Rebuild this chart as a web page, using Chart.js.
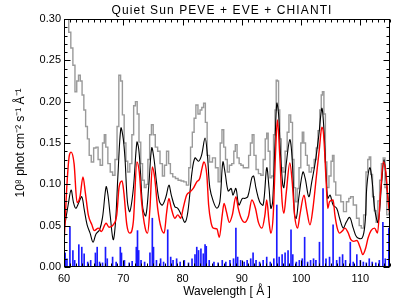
<!DOCTYPE html>
<html><head><meta charset="utf-8">
<script src="https://cdn.jsdelivr.net/npm/chart.js@4.4.1/dist/chart.umd.min.js"></script>
<style>html,body{margin:0;padding:0;background:#fff}#wrap{width:409px;height:307px}</style>
</head><body><div id="wrap"><canvas id="c" width="409" height="307"></canvas></div>
<script>
const chartTitle = 'Quiet Sun PEVE + EVE + CHIANTI';
const xAxisTitle = 'Wavelength [ Å ]';
const yAxisTitle = '10⁸ phot cm⁻² s⁻¹ Å⁻¹';
const xTickValues = [60, 70, 80, 90, 100, 110];
const yTickValues = [0, 0.05, 0.10, 0.15, 0.20, 0.25, 0.30];

// PEVE (grey histogram)
const peveWave = [60.0,60.3,60.6,61.0,61.3,61.7,62.0,62.3,62.6,62.9,63.2,63.5,63.8,64.1,64.4,64.8,65.2,65.6,65.9,66.3,66.7,66.9,67.2,67.6,68.0,68.4,68.8,69.1,69.4,69.7,70.0,70.3,70.6,70.9,71.3,71.6,71.9,72.2,72.5,72.8,73.1,73.4,73.7,74.0,74.3,74.6,74.9,75.2,75.6,76.0,76.4,76.8,77.1,77.5,77.8,78.1,78.6,79.0,79.5,80.0,80.4,80.9,81.2,81.5,81.8,82.1,82.4,82.8,83.1,83.4,83.7,84.0,84.3,84.8,85.3,85.8,86.2,86.5,86.8,87.1,87.4,87.7,88.1,88.5,88.8,89.0,89.4,89.7,90.0,90.5,91.0,91.3,91.6,91.9,92.2,92.6,93.0,93.4,93.8,94.1,94.3,94.6,94.9,95.2,95.5,95.7,95.9,96.1,96.3,96.5,96.8,97.1,97.5,97.8,98.1,98.4,98.7,98.9,99.2,99.5,99.8,100.1,100.3,100.6,100.9,101.2,101.5,102.0,102.4,102.7,103.0,103.3,103.5,103.7,104.0,104.2,104.5,104.9,105.2,105.4,105.7,106.0,106.5,106.9,107.4,107.9,108.2,108.5,109.1,109.6,110.0,110.3,110.8,111.1,111.4,111.6,111.9,112.2,112.5,112.8,113.1,113.4,113.7,114.0,114.3,114.6,115.0];
const peveFlux = [0.31,0.31,0.30,0.284,0.265,0.244,0.212,0.225,0.232,0.225,0.208,0.19,0.17,0.155,0.135,0.127,0.144,0.145,0.13,0.123,0.15,0.16,0.145,0.125,0.115,0.111,0.13,0.17,0.232,0.225,0.184,0.15,0.128,0.115,0.125,0.16,0.195,0.20,0.185,0.151,0.125,0.105,0.096,0.10,0.13,0.16,0.172,0.16,0.145,0.14,0.125,0.11,0.123,0.14,0.125,0.113,0.109,0.107,0.105,0.104,0.103,0.099,0.12,0.145,0.163,0.18,0.196,0.185,0.19,0.193,0.198,0.175,0.135,0.127,0.132,0.12,0.103,0.15,0.166,0.145,0.13,0.115,0.123,0.125,0.14,0.148,0.132,0.125,0.123,0.12,0.12,0.135,0.15,0.16,0.135,0.118,0.113,0.111,0.13,0.155,0.162,0.14,0.108,0.11,0.16,0.19,0.226,0.225,0.19,0.155,0.12,0.115,0.14,0.163,0.184,0.175,0.13,0.096,0.079,0.095,0.12,0.15,0.163,0.15,0.135,0.123,0.115,0.12,0.13,0.144,0.165,0.19,0.208,0.212,0.185,0.127,0.096,0.11,0.128,0.135,0.103,0.087,0.087,0.079,0.067,0.079,0.083,0.085,0.075,0.059,0.05,0.047,0.063,0.115,0.13,0.133,0.112,0.085,0.068,0.054,0.08,0.105,0.125,0.132,0.096,0.063,0.065];

// EVE (black)
const eveWave = [60.0,60.3,60.7,61.2,61.6,62.0,62.5,63.0,63.4,63.9,64.4,64.9,65.4,66.0,66.5,67.1,67.4,67.8,68.3,68.7,69.1,69.6,70.0,70.3,70.7,71.1,71.7,72.3,72.6,72.9,73.3,73.8,74.3,74.8,75.2,75.6,76.1,76.6,77.2,77.7,78.1,78.7,79.2,79.8,80.4,80.9,81.6,82.1,82.7,83.2,83.8,84.2,84.6,85.2,85.8,86.3,86.8,87.2,87.7,88.2,88.5,89.0,89.5,90.1,90.5,91.0,91.7,92.0,92.4,93.0,93.6,94.2,94.6,94.9,95.2,95.6,95.9,96.2,96.5,96.9,97.1,97.5,98.1,98.5,98.9,99.2,99.6,100.3,100.7,101.3,101.8,102.4,103.0,103.5,103.8,104.2,104.5,104.9,105.4,106.0,106.5,107.1,107.6,108.2,108.8,109.4,110.3,110.8,111.1,111.6,112.0,112.4,113.0,113.6,114.0,114.4,114.9,115.0];
const eveFlux = [0.045,0.058,0.075,0.093,0.078,0.071,0.078,0.085,0.07,0.051,0.041,0.03,0.04,0.045,0.06,0.097,0.088,0.062,0.033,0.055,0.111,0.168,0.155,0.13,0.079,0.067,0.095,0.151,0.143,0.115,0.071,0.062,0.098,0.144,0.13,0.103,0.079,0.075,0.085,0.099,0.087,0.073,0.071,0.063,0.054,0.067,0.115,0.132,0.128,0.135,0.156,0.135,0.096,0.079,0.071,0.079,0.127,0.113,0.092,0.095,0.087,0.095,0.075,0.083,0.083,0.085,0.108,0.11,0.095,0.079,0.075,0.12,0.095,0.071,0.079,0.15,0.198,0.185,0.14,0.10,0.096,0.125,0.154,0.13,0.063,0.059,0.083,0.115,0.107,0.085,0.103,0.127,0.16,0.192,0.172,0.115,0.083,0.087,0.075,0.071,0.059,0.047,0.054,0.06,0.047,0.036,0.035,0.054,0.098,0.12,0.103,0.071,0.054,0.103,0.13,0.103,0.067,0.06];

// CHIANTI convolved (red)
const chiantiWave = [60.0,60.5,60.9,61.2,61.7,62.2,62.7,63.2,63.6,64.1,64.7,65.1,65.8,66.3,67.1,67.6,68.3,68.9,69.3,69.8,70.1,70.6,71.1,71.7,72.3,72.7,73.1,73.7,74.1,74.5,74.9,75.3,75.8,76.4,76.9,77.3,77.7,78.1,78.7,79.2,79.7,80.1,80.7,81.3,81.8,82.4,82.9,83.3,83.6,84.1,84.4,84.8,85.2,85.8,86.2,86.7,87.0,87.4,87.9,88.4,89.0,89.4,89.9,90.5,91.1,91.7,92.3,92.8,93.4,93.9,94.2,94.6,94.9,95.3,95.7,96.0,96.4,96.8,97.1,97.5,98.1,98.5,98.9,99.4,99.8,100.5,100.9,101.5,102.0,102.6,103.1,103.5,103.8,104.2,104.5,104.8,105.4,105.7,106.1,106.5,107.0,107.4,107.9,108.4,108.9,109.4,110.0,110.4,110.9,111.3,111.8,112.4,112.9,113.4,113.9,114.3,114.7,115.0];
const chiantiFlux = [0.027,0.10,0.135,0.139,0.125,0.078,0.085,0.109,0.09,0.063,0.051,0.044,0.047,0.043,0.053,0.048,0.051,0.063,0.097,0.104,0.09,0.051,0.041,0.055,0.127,0.115,0.078,0.047,0.041,0.071,0.121,0.108,0.071,0.047,0.041,0.065,0.083,0.071,0.059,0.063,0.059,0.071,0.087,0.091,0.095,0.103,0.107,0.12,0.127,0.111,0.075,0.054,0.047,0.046,0.036,0.063,0.077,0.067,0.054,0.063,0.085,0.071,0.059,0.054,0.061,0.081,0.071,0.054,0.047,0.063,0.081,0.054,0.041,0.063,0.14,0.178,0.135,0.079,0.065,0.09,0.126,0.103,0.063,0.047,0.063,0.087,0.071,0.051,0.071,0.111,0.144,0.169,0.16,0.107,0.071,0.079,0.081,0.063,0.047,0.041,0.044,0.047,0.042,0.033,0.031,0.032,0.023,0.015,0.023,0.035,0.044,0.047,0.041,0.09,0.127,0.115,0.079,0.063];

// CHIANTI line list (blue)
const lineWave = [60.2,60.5,61.0,61.5,61.8,62.5,63.0,63.4,64.0,64.5,65.3,65.6,66.0,66.5,67.0,67.3,68.2,68.8,69.5,69.7,70.2,71.0,71.5,72.2,72.4,72.6,73.0,73.6,74.5,74.9,75.1,75.6,76.3,76.8,77.5,78.0,78.4,79.0,79.6,80.3,81.0,81.6,82.1,82.4,82.7,83.1,83.5,83.8,84.0,84.5,85.3,86.0,86.7,87.3,88.0,88.6,89.0,89.3,89.8,90.4,90.9,91.5,91.9,92.4,93.0,93.6,94.2,94.8,95.4,95.9,96.3,96.8,97.3,97.8,98.3,98.6,99.2,99.7,100.2,100.6,101.1,101.6,102.1,102.5,103.1,103.7,104.2,104.8,105.4,106.0,106.5,107.0,107.5,108.3,108.8,109.4,110.0,110.5,111.0,111.5,112.0,112.6,113.2,113.8,114.2,114.8];
const lineFlux = [0.017,0.01,0.048,0.02,0.008,0.027,0.024,0.016,0.006,0.008,0.017,0.024,0.006,0.005,0.024,0.01,0.012,0.006,0.024,0.017,0.008,0.005,0.007,0.024,0.044,0.02,0.008,0.006,0.017,0.059,0.024,0.008,0.01,0.006,0.045,0.012,0.008,0.01,0.006,0.008,0.005,0.01,0.015,0.024,0.02,0.022,0.016,0.027,0.025,0.008,0.006,0.005,0.008,0.006,0.008,0.01,0.047,0.012,0.008,0.006,0.008,0.01,0.017,0.008,0.006,0.008,0.012,0.006,0.01,0.075,0.012,0.015,0.017,0.02,0.045,0.015,0.006,0.008,0.01,0.036,0.006,0.008,0.01,0.008,0.03,0.095,0.01,0.012,0.051,0.008,0.012,0.015,0.008,0.03,0.006,0.015,0.008,0.006,0.005,0.01,0.006,0.005,0.008,0.054,0.01,0.047];

const pts = (xs, ys) => xs.map((x, i) => ({x: x, y: ys[i]}));

const FONT = 'Liberation Sans, Arial, Helvetica, sans-serif';

const frameTicks = {
  id: 'frameTicks',
  afterDatasetsDraw(chart) {
    const {ctx, chartArea: a, scales: {x, y}} = chart;
    ctx.save();
    ctx.strokeStyle = '#000';
    ctx.lineWidth = 1;
    const L = Math.round(a.left) + 0.5, R = Math.round(a.right) - 0.5;
    const T = Math.round(a.top) + 0.5, B = Math.round(a.bottom) - 0.5;
    ctx.strokeRect(L, T, R - L, B - T);
    ctx.beginPath();
    for (let v = x.min; v <= x.max + 1e-9; v += 1) {
      const px = Math.round(x.getPixelForValue(v)) + 0.5;
      const len = xTickValues.includes(Math.round(v)) ? 6 : 3;
      ctx.moveTo(px, B); ctx.lineTo(px, B - len);
      ctx.moveTo(px, T); ctx.lineTo(px, T + len);
    }
    for (let k = 0; k <= 30; k++) {
      const v = k / 100;
      const py = Math.round(y.getPixelForValue(v)) + 0.5;
      const len = (k % 5 === 0) ? 6 : 3;
      ctx.moveTo(L, py); ctx.lineTo(L + len, py);
      ctx.moveTo(R, py); ctx.lineTo(R - len, py);
    }
    ctx.stroke();
    // title
    ctx.fillStyle = '#000';
    ctx.font = '12px ' + FONT;
    try { ctx.letterSpacing = '1.1px'; } catch (e) {}
    ctx.textAlign = 'center';
    ctx.textBaseline = 'middle';
    ctx.fillText(chartTitle, 222, 11);
    ctx.restore();
  }
};

new Chart(document.getElementById('c'), {
  type: 'line',
  data: {
    datasets: [
      {type: 'line', label: 'CHIANTI', data: pts(chiantiWave, chiantiFlux), borderColor: '#ff0000', borderWidth: 1.4, pointRadius: 0, cubicInterpolationMode: 'monotone', order: 1},
      {type: 'line', label: 'EVE', data: pts(eveWave, eveFlux), borderColor: '#000000', borderWidth: 1.1, pointRadius: 0, tension: 0.35, order: 2},
      {type: 'bar', label: 'lines', data: pts(lineWave, lineFlux), backgroundColor: '#1a1aff', barThickness: 1, order: 3},
      {type: 'line', label: 'PEVE', data: pts(peveWave, peveFlux), borderColor: '#9a9a9a', borderWidth: 1.4, pointRadius: 0, stepped: 'middle', order: 4}
    ]
  },
  options: {
    responsive: false,
    animation: false,
    devicePixelRatio: 1,
    layout: {padding: {top: 19, right: 19, left: 0, bottom: 0}},
    plugins: {legend: {display: false}, tooltip: {enabled: false}, title: {display: false}},
    scales: {
      x: {
        type: 'linear', min: 60, max: 115, offset: false,
        afterBuildTicks: s => { s.ticks = xTickValues.map(v => ({value: v})); },
        afterFit: s => { s.height = 40; },
        grid: {display: false, drawTicks: false},
        border: {display: false},
        ticks: {color: '#000', font: {family: FONT, size: 11}, padding: 5, maxRotation: 0, autoSkip: false},
        title: {display: true, text: xAxisTitle, color: '#000', font: {family: FONT, size: 12}, padding: {top: 0, bottom: 8}}
      },
      y: {
        type: 'linear', min: 0, max: 0.30,
        afterBuildTicks: s => { s.ticks = yTickValues.map(v => ({value: v})); },
        afterFit: s => { s.width = 64; },
        grid: {display: false, drawTicks: false},
        border: {display: false},
        ticks: {color: '#000', font: {family: FONT, size: 11}, padding: 3, callback: v => Number(v).toFixed(2)},
        title: {display: true, text: yAxisTitle, color: '#000', font: {family: FONT, size: 12}, padding: {top: 13, bottom: 0}}
      }
    }
  },
  plugins: [frameTicks]
});
</script>
</body></html>
